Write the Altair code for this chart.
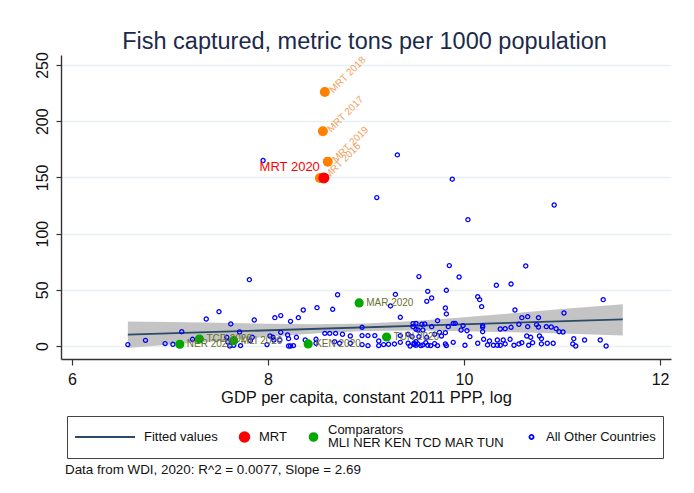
import altair as alt
import pandas as pd

FONT = "Liberation Sans"

# ---- data: log GDP per capita (x) vs fish captured, t per 1000 people (y) ----
other_x = [
    6.57, 6.75, 6.95, 7.03, 7.12, 7.23, 7.37, 7.50, 7.58, 7.59, 7.61, 7.62, 7.65,
    7.71, 7.72, 7.81, 7.82, 7.84, 7.86, 7.99, 8.02, 8.05, 8.06, 8.07, 8.12, 8.13,
    8.13, 8.20, 8.21, 8.21, 8.23, 8.23, 8.26, 8.29, 8.31,
    10.33, 10.48, 8.71, 9.30, 9.63, 9.82, 10.14, 10.16, 9.62, 9.67, 11.42, 9.81,
    9.82, 10.18, 10.52, 8.36, 8.50, 8.66, 9.25, 9.35, 9.73, 11.02, 10.59, 10.65,
    10.76,
    8.96, 9.48, 9.51, 9.57, 9.60, 9.48, 9.51, 9.53, 9.58, 9.67, 9.75, 9.81, 9.84,
    9.89, 9.91, 9.99, 9.97, 10.03, 10.19, 10.19, 10.19, 10.37, 10.42, 10.48,
    10.56, 10.65, 10.74, 10.76, 10.84, 10.89, 10.94, 10.97, 11.01, 8.58, 8.63,
    8.69, 8.76, 8.84, 8.96, 9.02, 9.09, 9.35, 9.43, 9.70,
    8.38, 8.49, 8.49, 8.68, 8.73, 8.84, 8.96, 9.02, 9.13, 9.13, 9.18, 9.23, 9.29,
    9.35, 9.43, 9.47, 9.49, 9.51, 9.54, 9.56, 9.62, 9.61, 9.66, 9.70, 9.73, 9.77,
    9.81, 9.82, 9.89, 10.01, 10.06, 10.14, 10.20, 10.24, 10.26, 10.30, 10.34,
    10.34, 10.37, 10.40, 10.42, 10.47, 10.51, 10.56, 10.59, 10.64, 10.66, 10.68,
    10.70, 10.77, 10.79, 10.79, 10.85, 10.91, 11.11, 11.12, 11.14, 11.23, 11.39,
    11.45, 9.49, 9.53, 9.58, 9.63, 9.51, 9.45,
    7.95, 9.32, 9.88, 9.11, 10.92, 10.04, 9.85, 10.63, 9.54, 9.95,
]
other_y = [
    1.2, 5.0, 2.1, 1.5, 12.7, 5.9, 24.0, 30.5, 7.7, 3.5, 0.0, 19.6, 0.6,
    12.4, 0.3, 59.0, 4.7, 7.7, 23.1, 1.2, 8.9, 7.7, 5.3, 25.2, 5.3, 27.0,
    12.1, 9.8, 6.5, 0.0, 21.9, 0.0, 0.3, 7.7, 25.2,
    54.0, 55.1, 45.6, 45.9, 48.6, 49.5, 43.9, 41.2, 39.7, 42.7, 41.2, 33.8,
    28.5, 35.0, 32.0, 32.0, 34.1, 32.6, 35.6, 25.5, 22.5, 29.3, 25.2, 26.1,
    25.2,
    16.6, 19.9, 20.1, 19.3, 19.6, 17.2, 14.8, 14.2, 14.2, 17.2, 12.1, 11.8, 17.2,
    20.1, 20.1, 18.1, 14.2, 13.6, 18.1, 16.9, 12.7, 15.1, 15.4, 16.6,
    19.3, 17.2, 19.0, 16.9, 17.2, 16.9, 15.4, 12.7, 12.4, 11.2, 11.2,
    11.2, 10.4, 8.9, 9.2, 9.2, 9.2, 9.2, 10.4, 10.4,
    5.3, 5.9, 2.4, 3.8, 2.4, 2.4, 1.2, 0.3, 4.4, 0.3, 1.2, 1.5, 1.8,
    3.2, 2.4, 8.3, 2.4, 0.6, 8.3, 0.3, 7.7, 2.9, 0.3, 2.1, 0.3, 8.9,
    1.8, 0.3, 3.2, 0.6, 8.3, 2.4, 5.9, 0.9, 4.4, 0.6, 0.6,
    5.3, 0.6, 5.3, 1.8, 5.9, 0.6, 1.8, 2.9, 8.9, 0.6, 7.7,
    2.9, 8.9, 6.5, 1.8, 2.4, 2.4, 1.8, 6.5, 0.0, 5.3, 5.3,
    0.0, 1.2, 1.8, 0.9, 0.6, 3.8, 0.0,
    165.0, 170.0, 148.4, 132.0, 125.4, 112.4, 71.5, 71.2, 61.7, 61.4,
]

comp_codes = ["MLI", "NER", "KEN", "TCD", "MAR", "TUN"]
comp_x = [7.65, 7.10, 8.41, 7.30, 8.93, 9.21]
comp_y = [4.7, 1.5, 1.8, 6.2, 38.3, 8.0]

mrt_years = ["2016", "2017", "2018", "2019"]
mrt_x = [8.53, 8.56, 8.58, 8.61]
mrt_y = [149.5, 191.0, 226.0, 164.0]

mrt2020_x = [8.57]
mrt2020_y = [149.5]

# linear fit (slope 2.69) and its confidence band
fit_x = [6.57, 11.62]
fit_y = [10.07, 23.66]
band_x = [6.57, 7.0, 7.5, 8.0, 8.5, 9.0, 9.5, 10.0, 10.5, 11.0, 11.62]
band_lo = [-1.8, 1.2, 4.5, 8.1, 11.3, 13.3, 13.7, 13.0, 12.2, 11.1, 9.4]
band_hi = [21.8, 21.3, 20.7, 19.8, 19.3, 19.9, 22.3, 25.6, 29.2, 32.9, 37.2]

groups = ["Fitted values", "MRT", "Comparators", "All Other Countries"]
title_text = "Fish captured, metric tons per 1000 population"
note_text = "Data from WDI, 2020: R^2 = 0.0077, Slope = 2.69"

# ---- tables ----
others_df = pd.DataFrame({"x": other_x, "y": other_y, "group": groups[3]})
key_df = pd.concat([
    pd.DataFrame({"x": comp_x, "y": comp_y, "group": groups[2],
                  "label": [c + " 2020" for c in comp_codes]}),
    pd.DataFrame({"x": mrt2020_x, "y": mrt2020_y, "group": groups[1],
                  "label": ["MRT 2020"]}),
], ignore_index=True)
mrt_df = pd.DataFrame({"x": mrt_x, "y": mrt_y,
                       "label": ["MRT " + y for y in mrt_years]})
fit_df = pd.DataFrame({"x": fit_x, "y": fit_y, "group": groups[0]})
band_df = pd.DataFrame({"x": band_x, "lo": band_lo, "hi": band_hi})

# ---- shared scales / legend ----
xs = alt.Scale(domain=[5.888, 12.112], nice=False, zero=False)
ys = alt.Scale(domain=[-11.6, 258.9], nice=False, zero=False)

# the two-line "Comparators" entry is lifted (bottom baseline) so that its two
# lines straddle the row centre where the one-line labels sit
leg = alt.Legend(
    title=None, orient="none", legendX=6, legendY=361, direction="horizontal",
    labelExpr=("datum.value == 'Comparators' ? "
               "['Comparators', 'MLI NER KEN TCD MAR TUN'] : datum.label"),
    labelBaseline={"expr": "datum.value == 'Comparators' ? 'bottom' : 'middle'"},
)
stroke_enc = alt.Stroke("group:N", legend=leg, scale=alt.Scale(
    domain=groups, range=["#2b4a68", "#ff0000", "#00a800", "#0000ff"]))
fill_enc = alt.Fill("group:N", legend=leg, scale=alt.Scale(
    domain=groups, range=["transparent", "#ff0000", "#00a800", "transparent"]))
shape_enc = alt.Shape("group:N", legend=leg, scale=alt.Scale(
    domain=groups, range=["stroke", "circle", "circle", "circle"]))
size_enc = alt.Size("group:N", legend=leg, scale=alt.Scale(
    type="ordinal", domain=groups, range=[3600, 95, 62, 17]))

X = alt.X("x:Q", scale=xs, axis=alt.Axis(
    values=[6, 8, 10, 12], grid=False, title="GDP per capita, constant 2011 PPP, log",
    titleFontSize=16.5, titleFont=FONT, titleFontWeight="normal", titleColor="#111",
    titlePadding=2, labelFontSize=16, labelFont=FONT, labelColor="#111",
    labelPadding=6, tickSize=6, tickColor="#333", domainColor="#333",
    domainWidth=1.4, tickWidth=1.2))
Y = alt.Y("y:Q", scale=ys, axis=alt.Axis(
    values=[0, 50, 100, 150, 200, 250], title=None, labelAngle=270,
    labelFontSize=16, labelFont=FONT, labelColor="#111", labelPadding=6,
    tickSize=5, tickColor="#333", domainColor="#333", domainWidth=1.4,
    tickWidth=1.2, grid=True, gridColor="#e6eff1", gridWidth=1.4))

band = alt.Chart(band_df).mark_area(color="#c4c4c4", opacity=1).encode(
    x=X, y=alt.Y("lo:Q", scale=ys), y2="hi:Q")
fit = alt.Chart(fit_df).mark_line(strokeWidth=1.8).encode(
    x=X, y=Y, stroke=stroke_enc)
others = alt.Chart(others_df).mark_point(strokeWidth=1.3, opacity=1).encode(
    x=X, y=Y, stroke=stroke_enc, fill=fill_enc, shape=shape_enc, size=size_enc)
mrt_pts = alt.Chart(mrt_df).mark_circle(color="#ff8000", size=100, opacity=1).encode(
    x=X, y=Y)
mrt_lbl = alt.Chart(mrt_df).mark_text(
    align="left", baseline="middle", angle=315, dx=5, dy=4, fontSize=10,
    font=FONT, color="#f0a060").encode(x=X, y=Y, text="label:N")
key_pts = alt.Chart(key_df).mark_point(strokeWidth=1.3, opacity=1).encode(
    x=X, y=Y, stroke=stroke_enc, fill=fill_enc, shape=shape_enc, size=size_enc)
comp_lbl = alt.Chart(key_df).transform_filter(
    alt.datum.group == "Comparators").mark_text(
    align="left", baseline="middle", dx=7, fontSize=10, font=FONT,
    color="#6a7030").encode(x=X, y=Y, text="label:N")
mrt20_lbl = alt.Chart(key_df).transform_filter(
    alt.datum.group == "MRT").mark_text(
    align="right", baseline="middle", dx=-4, dy=-11, fontSize=13, font=FONT,
    color="#ff0000").encode(x=X, y=Y, text="label:N")

plot = alt.layer(
    band, fit, others, mrt_pts, mrt_lbl, key_pts, comp_lbl, mrt20_lbl
).properties(
    width=610, height=304,
    title=alt.TitleParams(note_text, orient="bottom", anchor="start", frame="group",
                          fontSize=13.4, font=FONT, fontWeight="normal",
                          color="#111", offset=57, dx=4),
)

chart = alt.vconcat(plot).properties(
    title=alt.TitleParams(title_text, fontSize=23.5, font=FONT, fontWeight="normal",
                          color="#1c2a4a", anchor="middle", offset=-2, dx=12),
    padding={"left": 33, "top": 30, "right": 10, "bottom": 10},
    background="white",
).configure(
    style={"guide-label": {"lineHeight": 13}},
).configure_view(stroke=None).configure_legend(
    strokeColor="#444", strokeWidth=1, padding=7, columnPadding=20,
    labelFont=FONT, labelFontSize=13, labelColor="#111", labelOffset=8,
    labelLimit=400,
    symbolStrokeWidth=1.8, clipHeight=28, symbolOffset=0,
    symbolFillColor="transparent", symbolStrokeColor="#000", cornerRadius=0,
)

chart.save("out.html", embed_options={"renderer": "svg", "actions": False})
